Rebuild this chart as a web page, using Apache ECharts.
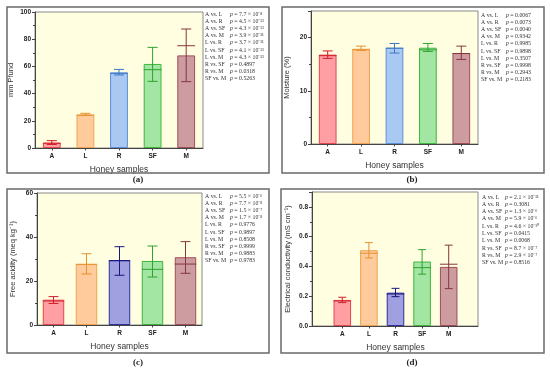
<!DOCTYPE html>
<html>
<head>
<meta charset="utf-8">
<script src="https://cdn.jsdelivr.net/npm/echarts@6/dist/echarts.min.js"></script>
<style>
html, body { margin: 0; padding: 0; background: #fff; }
#chart { width: 550px; height: 374px; }
</style>
</head>
<body>
<div id="chart"></div>
<script>
const samples = ['A', 'L', 'R', 'SF', 'M'];
const pairs = ['A vs. L', 'A vs. R', 'A vs. SF', 'A vs. M', 'L vs. R',
  'L vs. SF', 'L vs. M', 'R vs. SF', 'R vs. M', 'SF vs. M'];

// (a) colour, mm Pfund
const pfundMean = [3.9, 24.5, 55.6, 61.8, 68.1];
const pfundLow = [2.6, 24.0, 53.7, 49.0, 48.8];
const pfundHigh = [5.4, 25.5, 57.8, 74.0, 87.5];
const pfundMedian = [3.5, 24.2, 54.9, 57.6, 75.2];
const pfundP = ['7.7 × 10^-8', '4.5 × 10^-13', '4.3 × 10^-13', '3.9 × 10^-11', '3.7 × 10^-11',
  '4.1 × 10^-13', '4.3 × 10^-13', '0.4897', '0.0318', '0.5263'];

// (b) moisture, %
const moistMean = [16.8, 17.9, 18.1, 18.1, 17.1];
const moistLow = [16.1, 17.6, 17.1, 17.4, 15.9];
const moistHigh = [17.5, 18.4, 18.9, 18.9, 18.4];
const moistMedian = [16.6, 17.7, 18.0, 17.7, 17.0];
const moistP = ['0.0067', '0.0073', '0.0040', '0.9342', '0.9985',
  '0.9898', '0.3507', '0.9998', '0.2943', '0.2183'];

// (c) free acidity, meq/kg
const acidMean = [11.5, 27.7, 29.4, 29.1, 30.8];
const acidLow = [9.8, 23.2, 22.6, 21.8, 23.5];
const acidHigh = [12.9, 32.4, 35.6, 35.9, 37.9];
const acidMedian = [10.9, 27.6, 29.3, 25.3, 27.7];
const acidP = ['5.5 × 10^-6', '7.7 × 10^-8', '1.5 × 10^-7', '1.7 × 10^-8', '0.9776',
  '0.9897', '0.8508', '0.9999', '0.9883', '0.9783'];

// (d) electrical conductivity, mS/cm
const condMean = [0.175, 0.509, 0.224, 0.433, 0.397];
const condLow = [0.157, 0.457, 0.197, 0.348, 0.251];
const condHigh = [0.193, 0.560, 0.253, 0.513, 0.543];
const condMedian = [0.168, 0.489, 0.215, 0.392, 0.415];
const condP = ['2.1 × 10^-11', '0.3081', '1.3 × 10^-6', '5.9 × 10^-6', '4.6 × 10^-10',
  '0.0415', '0.0068', '8.7 × 10^-7', '2.9 × 10^-7', '0.8516'];

const fillsLight = ['#ff9fa3', '#ffcb9c', '#a9c9f2', '#a3e5a3', '#cc9ca1'];
const edgesLight = ['#e4464f', '#f2a24e', '#5a8ed6', '#3db53d', '#9e4d55'];
const errLight = ['#cf1f2a', '#e3922e', '#3b76c6', '#2ea32e', '#86363e'];
const fillsDark = ['#ff9fa3', '#ffcb9c', '#a0a0e0', '#a3e5a3', '#cc9ca1'];
const edgesDark = ['#e4464f', '#f2a24e', '#2d2d9c', '#3db53d', '#9e4d55'];
const errDark = ['#cf1f2a', '#e3922e', '#16167c', '#2ea32e', '#86363e'];

const sup = { '0': '⁰', '1': '¹', '2': '²', '3': '³', '4': '⁴', '5': '⁵', '6': '⁶', '7': '⁷', '8': '⁸', '9': '⁹', '-': '⁻' };
function pText(s) {
  const parts = s.split('^');
  let out = '{i|p} = ' + parts[0];
  if (parts[1]) out += parts[1].split('').map(c => sup[c]).join('');
  return out;
}

const panels = [
  { frame: [7, 7, 269, 173], plot: [35, 12, 203, 148], bars: [35, 203],
    mean: pfundMean, low: pfundLow, high: pfundHigh, median: pfundMedian, p: pfundP,
    max: 100, interval: 20, name: 'mm Pfund', barW: '53%',
    pos: [205, 230, 14, 7.2], cap: ['(a)', 138, 180], dark: false },
  { frame: [282, 7, 544, 173], plot: [311, 11, 478, 144], bars: [311, 478],
    mean: moistMean, low: moistLow, high: moistHigh, median: moistMedian, p: moistP,
    max: 25, interval: 10, name: 'Moisture (%)', barW: '53%',
    pos: [481, 506, 15, 7.2], cap: ['(b)', 412, 180], dark: false },
  { frame: [7, 189, 269, 353], plot: [37, 193, 202, 325], bars: [37, 202],
    mean: acidMean, low: acidLow, high: acidHigh, median: acidMedian, p: acidP,
    max: 60, interval: 20, name: 'Free acidity (meq kg⁻¹)', barW: '65%',
    pos: [205, 230, 196, 7.2], cap: ['(c)', 138, 363], dark: true },
  { frame: [281, 189, 544, 353], plot: [312, 192, 478, 326], bars: [329, 462],
    mean: condMean, low: condLow, high: condHigh, median: condMedian, p: condP,
    max: 0.9, interval: 0.2, name: 'Electrical conductivity (mS cm⁻¹)', barW: '66%',
    pos: [482, 505, 197, 7.3], cap: ['(d)', 412, 363], dark: true }
];

function errorItem(colors, ratio) {
  return function (params, api) {
    const i = api.value(0);
    const lo = api.coord([i, api.value(1)]);
    const hi = api.coord([i, api.value(2)]);
    const md = api.coord([i, api.value(3)]);
    const band = api.size([1, 0])[0];
    const c = band * 0.15;
    const m = band * ratio / 2;
    const style = { stroke: colors[i], lineWidth: 1 };
    return {
      type: 'group',
      children: [
        { type: 'line', shape: { x1: lo[0], y1: lo[1], x2: hi[0], y2: hi[1] }, style: style },
        { type: 'line', shape: { x1: hi[0] - c, y1: hi[1], x2: hi[0] + c, y2: hi[1] }, style: style },
        { type: 'line', shape: { x1: lo[0] - c, y1: lo[1], x2: lo[0] + c, y2: lo[1] }, style: style },
        { type: 'line', shape: { x1: md[0] - m, y1: md[1], x2: md[0] + m, y2: md[1] }, style: style }
      ]
    };
  };
}

const grid = [], xAxis = [], yAxis = [], series = [], graphic = [];
const labelFont = { fontFamily: 'Liberation Sans', fontSize: 6.5, fontWeight: 'bold', color: '#222' };

panels.forEach(function (pn, k) {
  const fills = pn.dark ? fillsDark : fillsLight;
  const edges = pn.dark ? edgesDark : edgesLight;
  const errs = pn.dark ? errDark : errLight;
  const g0 = grid.length;
  // frame grid (background + y axis)
  grid.push({ left: pn.plot[0], top: pn.plot[1], width: pn.plot[2] - pn.plot[0], height: pn.plot[3] - pn.plot[1],
    show: true, backgroundColor: '#fffee1', borderColor: '#8a8a8a', borderWidth: 1 });
  // bar grid
  grid.push({ left: pn.bars[0], top: pn.plot[1], width: pn.bars[1] - pn.bars[0], height: pn.plot[3] - pn.plot[1] });

  xAxis.push({ gridIndex: g0, type: 'category', data: samples,
    axisLine: { lineStyle: { color: '#444', width: 1 } }, axisTick: { show: false }, axisLabel: { show: false } });
  xAxis.push({ gridIndex: g0 + 1, type: 'category', data: samples,
    axisLine: { show: false },
    axisTick: { show: true, alignWithLabel: true, length: 2.5, lineStyle: { color: '#444' } },
    axisLabel: Object.assign({ margin: 5 }, labelFont),
    name: 'Honey samples', nameLocation: 'middle', nameGap: 17,
    nameTextStyle: { fontFamily: 'Liberation Sans', fontSize: 8.5, color: '#333' } });

  yAxis.push({ gridIndex: g0, type: 'value', min: 0, max: pn.max, interval: pn.interval,
    splitLine: { show: false },
    axisLine: { show: true, lineStyle: { color: '#444', width: 1 } },
    axisTick: { show: true, length: 3, lineStyle: { color: '#444' } },
    minorTick: { show: true, splitNumber: 2, length: 2, lineStyle: { color: '#444' } },
    axisLabel: Object.assign({ margin: 4, showMaxLabel: pn.max % pn.interval === 0,
      formatter: function (v) { return pn.interval < 1 ? v.toFixed(1) : String(v); } }, labelFont),
    name: pn.name, nameLocation: 'middle', nameGap: 20,
    nameTextStyle: { fontFamily: 'Liberation Sans', fontSize: 7.5, color: '#333' } });
  yAxis.push({ gridIndex: g0 + 1, type: 'value', min: 0, max: pn.max, show: false });

  series.push({ type: 'bar', xAxisIndex: g0 + 1, yAxisIndex: g0 + 1, barWidth: pn.barW,
    data: pn.mean.map(function (v, i) {
      return { value: v, itemStyle: { color: fills[i], borderColor: edges[i], borderWidth: 1 } };
    }) });
  series.push({ type: 'custom', xAxisIndex: g0 + 1, yAxisIndex: g0 + 1, z: 5,
    renderItem: errorItem(errs, parseFloat(pn.barW) / 100),
    data: pn.mean.map(function (v, i) { return [i, pn.low[i], pn.high[i], pn.median[i]]; }) });

  // outer frame of the panel
  graphic.push({ type: 'rect', z: 100,
    shape: { x: pn.frame[0], y: pn.frame[1], width: pn.frame[2] - pn.frame[0], height: pn.frame[3] - pn.frame[1] },
    style: { fill: null, stroke: '#6a6a6a', lineWidth: 1.5 } });
  // p-value table
  pairs.forEach(function (pair, r) {
    const y = pn.pos[2] + r * pn.pos[3];
    graphic.push({ type: 'text', z: 100, x: pn.pos[0], y: y,
      style: { text: pair, fontFamily: 'Liberation Serif', fontSize: 5.8, fill: '#333', verticalAlign: 'middle' } });
    graphic.push({ type: 'text', z: 100, x: pn.pos[1], y: y,
      style: { text: pText(pn.p[r]), fontFamily: 'Liberation Serif', fontSize: 5.8, fill: '#333', verticalAlign: 'middle',
        rich: { i: { fontStyle: 'italic', fontFamily: 'Liberation Serif', fontSize: 5.8, fill: '#333' } } } });
  });
  // caption
  graphic.push({ type: 'text', z: 100, x: pn.cap[1], y: pn.cap[2],
    style: { text: pn.cap[0], fontFamily: 'Liberation Serif', fontSize: 9, fontWeight: 'bold', fill: '#222',
      align: 'center', verticalAlign: 'middle' } });
});

const chart = echarts.init(document.getElementById('chart'));
chart.setOption({
  animation: false,
  backgroundColor: '#fff',
  grid: grid,
  xAxis: xAxis,
  yAxis: yAxis,
  series: series,
  graphic: graphic
});
</script>
</body>
</html>
